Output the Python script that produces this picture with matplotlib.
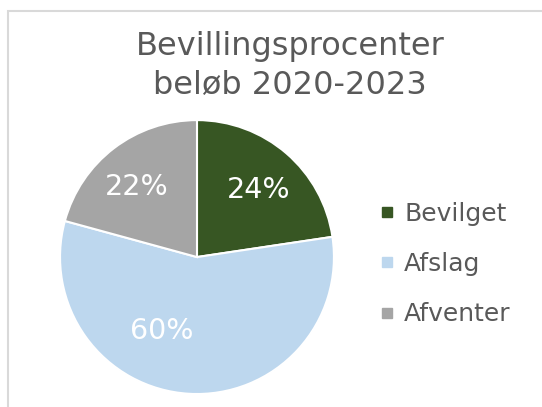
import matplotlib
matplotlib.use('Agg')
import matplotlib.pyplot as plt
from matplotlib.patches import Rectangle
from matplotlib.lines import Line2D

# data
categories = ['Bevilget', 'Afslag', 'Afventer']
values = [24, 60, 22]
colors = ['#375623', '#BDD7EE', '#A5A5A5']
title = 'Bevillingsprocenter\nbeløb 2020-2023'

# where Excel put the percentage labels (in pie radius units)
label_xy = [(0.453, 0.489), (-0.255, -0.540), (-0.438, 0.511)]

plt.rcParams['font.family'] = ['DejaVu Sans']

fig = plt.figure(figsize=(5.42, 4.07), dpi=100)
fig.patch.set_facecolor('white')

# chart border (runs off right and bottom)
fig.patches.append(Rectangle((8/542, -0.1), 1.0, 1 - 11/407 + 0.1,
                             transform=fig.transFigure, fill=False,
                             edgecolor='#D9D9D9', linewidth=1.5))

ax = fig.add_axes([0.1107, 0.0319, 0.5055, 0.673])
total = sum(values)
wedges, texts, autotexts = ax.pie(values, colors=colors, startangle=90, counterclock=False,
                                  radius=1, pctdistance=0.66,
                                  autopct=lambda p: f'{p * total / 100:.0f}%',
                                  wedgeprops=dict(edgecolor='white', linewidth=1.5))
for t, xy in zip(autotexts, label_xy):
    t.set_color('white')
    t.set_fontsize(20.5)
    t.set_position(xy)
ax.set_xlim(-1, 1)
ax.set_ylim(-1, 1)
ax.set_aspect('equal')

fig.text(290/542, 1 - 66/407, title, ha='center', va='center', fontsize=23,
         color='#595959', linespacing=1.35)

handles = [Line2D([], [], marker='s', linestyle='none', markersize=7,
                  markerfacecolor=c, markeredgecolor=c) for c in colors]
leg = fig.legend(handles, categories, loc='center left', bbox_to_anchor=(353/542, 1 - 264/407),
                 frameon=False, fontsize=18, labelspacing=1.05, handletextpad=0.25,
                 handlelength=0.9, labelcolor='#595959')

plt.savefig('out.png', dpi=100)
